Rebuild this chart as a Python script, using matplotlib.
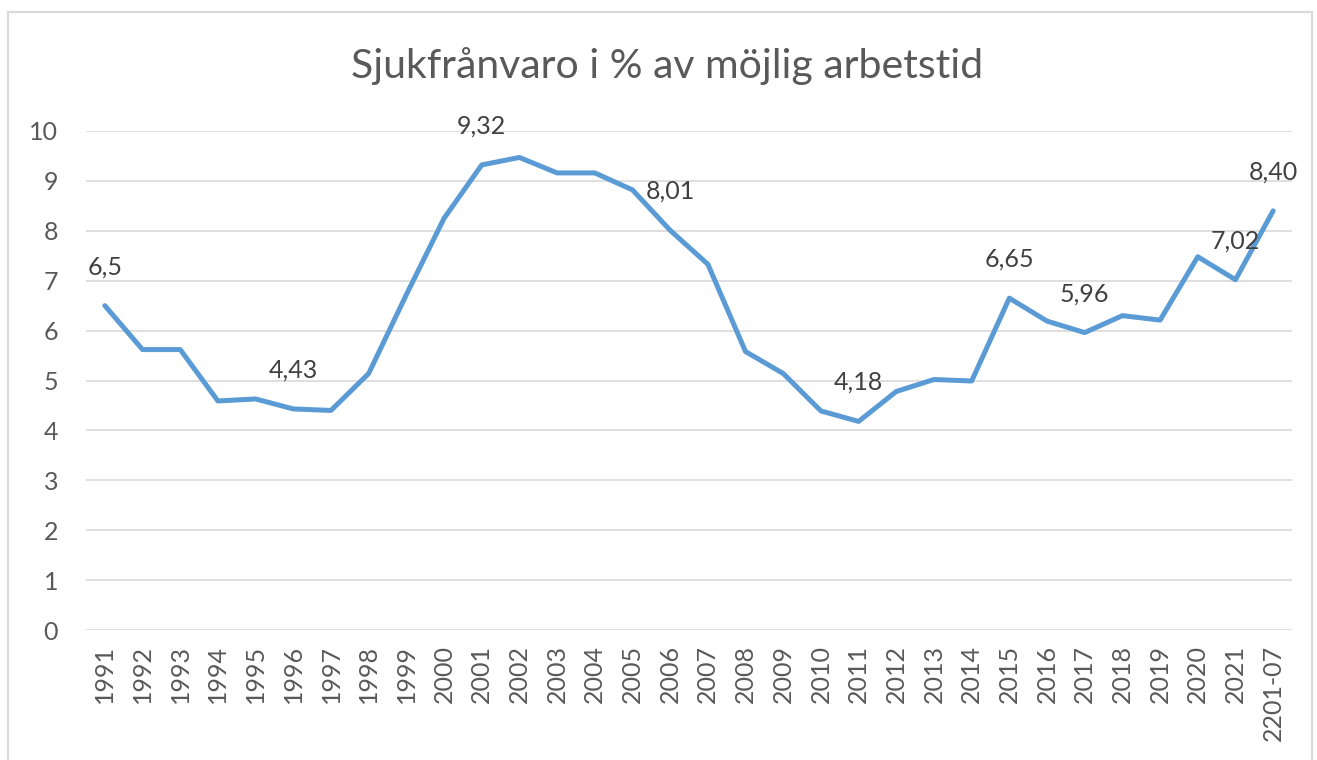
import matplotlib
matplotlib.use("Agg")
import matplotlib.pyplot as plt
from matplotlib.patches import Rectangle

plt.rcParams['font.family'] = ['Lato', 'DejaVu Sans']

categories = ["1991", "1992", "1993", "1994", "1995", "1996", "1997", "1998", "1999", "2000",
              "2001", "2002", "2003", "2004", "2005", "2006", "2007", "2008", "2009", "2010",
              "2011", "2012", "2013", "2014", "2015", "2016", "2017", "2018", "2019", "2020",
              "2021", "2201-07"]
values = [6.50, 5.62, 5.62, 4.59, 4.63, 4.43, 4.40, 5.14, 6.72, 8.25,
          9.32, 9.47, 9.16, 9.16, 8.82, 8.01, 7.33, 5.58, 5.14, 4.39,
          4.18, 4.78, 5.02, 4.99, 6.65, 6.19, 5.96, 6.30, 6.21, 7.48,
          7.02, 8.40]
labelled = {0: "6,5", 5: "4,43", 10: "9,32", 15: "8,01", 20: "4,18",
            24: "6,65", 26: "5,96", 30: "7,02", 31: "8,40"}
title = "Sjukfrånvaro i % av möjlig arbetstid"
yticks = list(range(0, 11))

W, H = 1317, 760
fig = plt.figure(figsize=(W / 100, H / 100), dpi=100)
fig.patch.set_facecolor("white")

# chart frame
fig.patches.append(Rectangle((8 / W, -0.05), (1312 - 8) / W, (760 - 12) / H + 0.05,
                             transform=fig.transFigure, fill=False,
                             edgecolor="#D9D9D9", linewidth=1.6))

ax = fig.add_axes([86 / W, 130 / H, (1292 - 86) / W, (630 - 131) / H])
x = list(range(len(categories)))
ax.plot(x, values, color="#5B9BD5", linewidth=3.6, solid_joinstyle="round",
        solid_capstyle="round", zorder=3)

for i, lab in labelled.items():
    ax.annotate(lab, (i, values[i]), xytext=(0, 28), textcoords="offset points",
                ha="center", va="center", fontsize=18, color="#404040", zorder=4)

ax.set_xlim(-0.5, len(categories) - 0.5)
ax.set_ylim(0, 10)
ax.set_yticks(yticks)
ax.set_yticklabels([str(t) for t in yticks])
ax.set_xticks(x)
ax.set_xticklabels(categories, rotation=90)
ax.tick_params(axis="y", length=0, pad=20, labelsize=18, labelcolor="#595959")
ax.tick_params(axis="x", length=0, pad=11, labelsize=18, labelcolor="#595959")
ax.grid(axis="y", color="#D9D9D9", linewidth=1.2)
ax.set_axisbelow(True)
for s in ax.spines.values():
    s.set_visible(False)

fig.text(667 / W, (760 - 78) / H, title, ha="center", va="baseline",
         fontsize=29.5, color="#595959")

fig.savefig("out.png", dpi=100)
